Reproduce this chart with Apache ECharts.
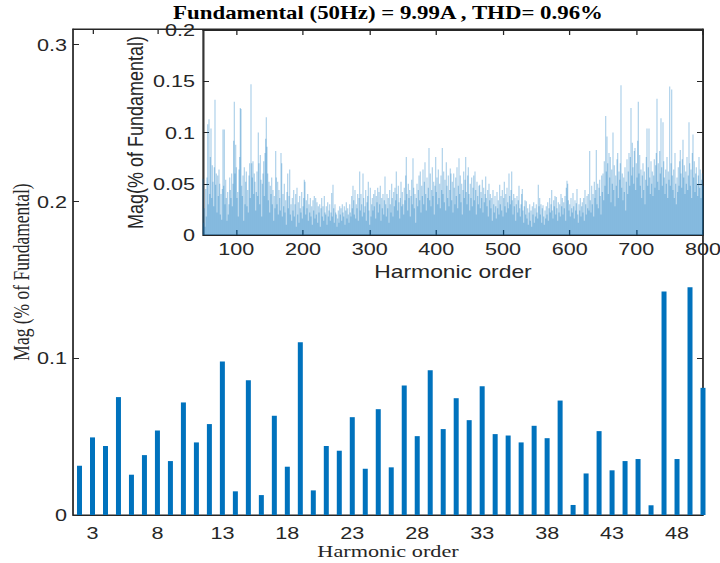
<!DOCTYPE html>
<html>
<head>
<meta charset="utf-8">
<script src="https://cdn.jsdelivr.net/npm/echarts@6/dist/echarts.min.js"></script>
<style>
  html, body { margin: 0; padding: 0; background: #fff; overflow: hidden; }
  #wrap { width: 720px; height: 563px; overflow: hidden; position: relative; }
  #chart { position: absolute; left: 0; top: 0; height: 563px; transform-origin: 0 0; }
</style>
</head>
<body>
<div id="wrap"><div id="chart"></div></div>
<script>
// ---------------- DATA ----------------
const titleText = 'Fundamental (50Hz) = 9.99A , THD= 0.96%';

// main plot: harmonic orders 2..50
const mainOrders = [2,3,4,5,6,7,8,9,10,11,12,13,14,15,16,17,18,19,20,21,22,23,24,25,26,
                    27,28,29,30,31,32,33,34,35,36,37,38,39,40,41,42,43,44,45,46,47,48,49,50];
const mainMag = [0.0314,0.0495,0.0440,0.0752,0.0257,0.0382,0.0539,0.0344,0.0718,0.0463,0.0580,0.0979,
                 0.0151,0.0860,0.0127,0.0633,0.0308,0.1102,0.0157,0.0440,0.0410,0.0624,0.0295,0.0675,
                 0.0304,0.0826,0.0503,0.0924,0.0548,0.0745,0.0605,0.0822,0.0516,0.0507,0.0463,0.0569,
                 0.0490,0.0730,0.0064,0.0265,0.0535,0.0285,0.0344,0.0357,0.0062,0.1425,0.0357,0.1452,0.0811];
const mainXTicks = [3,8,13,18,23,28,33,38,43,48];
const mainYTicks = [0,0.1,0.2,0.3];

// inset: harmonic orders 50..800, magnitudes in thousandths
const insetFirstOrder = 50;
const insetMagMilli = [
 55,12,26,8,45,18,56,108,30,113,40,76,104,36,68,52,28,66,132,49,60,22,58,38,64,
 50,20,40,15,45,103,48,103,30,54,36,14,42,20,30,56,44,36,60,28,50,92,130,60,88,
 66,36,42,18,64,76,124,123,48,38,58,14,66,30,52,62,28,44,22,58,70,36,147,70,56,
 72,40,60,52,24,42,62,38,100,70,30,78,54,18,50,60,72,38,80,94,115,86,60,34,52,
 22,48,40,56,30,44,14,38,26,82,56,30,52,20,44,36,24,80,70,18,40,28,50,22,34,
 10,42,60,26,38,64,20,30,14,36,24,44,18,30,40,8,46,20,32,12,38,26,22,42,16,
 28,36,54,52,20,34,26,40,14,30,22,36,18,28,10,34,24,38,16,36,20,32,12,28,22,
 30,8,26,36,18,28,14,38,22,20,28,10,32,18,24,30,14,22,41,18,49,26,12,30,22,
 20,8,16,24,12,28,20,26,14,30,22,18,28,10,24,32,16,26,20,12,30,22,18,38,26,
 48,34,20,44,16,30,26,40,14,36,62,24,40,30,18,60,36,22,28,44,14,32,38,52,24,
 10,46,18,30,36,24,40,28,44,16,38,32,46,22,42,30,48,14,36,26,40,20,34,57,30,
 18,40,26,36,12,44,30,22,50,36,18,42,28,46,34,62,40,24,48,32,16,36,52,28,42,
 30,20,46,34,58,76,40,24,50,36,44,18,38,54,30,75,46,26,40,12,36,50,28,44,58,
 34,62,22,48,38,64,30,52,71,40,24,56,36,46,85,34,60,28,44,66,38,52,20,48,76,
 42,56,30,64,36,50,26,58,44,85,40,62,32,54,24,71,48,36,58,28,44,65,60,34,52,
 22,60,46,30,56,38,66,26,48,75,40,58,32,50,20,44,62,36,54,76,42,30,58,66,40,
 24,50,36,56,28,46,58,34,62,44,20,52,38,30,48,49,26,42,36,54,22,46,32,40,57,
 36,28,44,18,50,34,40,26,36,14,44,30,22,38,28,16,42,26,34,20,49,30,38,24,44,
 18,36,52,28,40,22,46,32,26,60,38,30,44,62,34,20,40,28,36,14,30,38,22,34,48,
 26,18,30,40,45,24,12,28,34,20,33,16,26,10,22,30,14,24,8,28,20,32,12,26,18,
 30,22,16,49,28,36,20,30,12,26,29,18,10,24,16,28,20,32,14,26,36,22,30,44,24,
 16,34,28,38,20,37,26,14,32,22,30,18,40,28,36,20,32,26,38,14,46,53,50,34,24,
 30,18,36,26,22,41,28,16,34,24,31,45,20,12,30,24,36,18,28,32,22,36,14,44,30,
 20,38,26,40,24,82,34,22,48,30,40,18,52,36,44,83,30,50,26,46,54,38,20,58,42,
 60,34,72,48,116,62,96,70,40,80,56,76,32,64,50,100,44,68,28,58,48,74,80,36,62,
 54,70,146,46,60,34,56,42,66,24,52,74,40,62,80,48,76,124,58,90,66,50,82,85,44,
 70,56,92,130,60,78,48,64,36,58,70,44,62,30,54,76,104,48,66,104,56,40,72,50,62,
 38,58,74,46,68,80,133,52,70,44,82,60,114,66,48,110,72,56,40,64,50,76,36,62,54,
 145,48,70,142,58,44,64,36,80,50,30,56,42,66,48,72,83,60,46,74,93,56,68,40,62,
 50,76,44,58,110,70,48,64,36,80,98,56,72,42,60,66,50,38,58,76,46,64,36,54,60,
 48
];
const insetXTicks = [100,200,300,400,500,600,700,800];

// ---------------- LAYOUT (reference pixels; horizontal stretch of the original figure) ----------------
const SX = 1.27;
const X = v => v / SX;
const el = document.getElementById('chart');
el.style.width = (720 / SX) + 'px';
el.style.transform = 'scaleX(' + SX + ')';

const ink = '#262626';
const sans = 'Liberation Sans';
const serif = 'Liberation Serif';

const mainData = mainOrders.map((o, i) => [o, mainMag[i]]);
const insetData = insetMagMilli.map((m, i) => [insetFirstOrder + i, m / 1000]);

function boxAxis(base, extra) { return Object.assign({}, base, extra); }
function lineSt() { return { show: true, onZero: false, lineStyle: { color: ink, width: 1 } }; }

const mainX = {
  type: 'value', gridIndex: 0, min: 1.5, max: 50, nameMoveOverlap: false,
  axisLine: lineSt(),
  axisTick: { show: true, inside: true, length: 5, customValues: mainXTicks, lineStyle: { color: ink } },
  splitLine: { show: false },
};
const mainY = {
  type: 'value', gridIndex: 0, min: 0, max: 0.31, nameMoveOverlap: false,
  axisLine: lineSt(),
  axisTick: { show: true, inside: true, length: X(6), customValues: mainYTicks, lineStyle: { color: ink } },
  splitLine: { show: false },
};
const insX = {
  type: 'value', gridIndex: 1, min: 50, max: 800, z: 11, nameMoveOverlap: false,
  axisLine: lineSt(),
  axisTick: { show: true, inside: true, length: 5, customValues: insetXTicks, lineStyle: { color: ink } },
  splitLine: { show: false },
};
const insY = {
  type: 'value', gridIndex: 1, min: 0, max: 0.2, interval: 0.05, z: 11, nameMoveOverlap: false,
  axisLine: lineSt(),
  axisTick: { show: true, inside: true, length: X(6), lineStyle: { color: ink } },
  splitLine: { show: false },
};

const chart = echarts.init(el, null, { renderer: 'svg' });
chart.setOption({
  backgroundColor: '#fff',
  animation: false,
  title: {
    text: titleText,
    left: X(388), top: 6, textAlign: 'center', padding: 0,
    textStyle: { fontFamily: serif, fontWeight: 'bold', fontSize: 18, lineHeight: 14, color: '#000' }
  },
  grid: [
    { left: X(73), top: 29, width: X(630), height: 486, show: true, backgroundColor: 'transparent',
      borderColor: ink, borderWidth: 1, containLabel: false, outerBoundsMode: 'none' },
    { left: X(203), top: 30, width: X(500), height: 205, show: true, backgroundColor: '#fff',
      borderColor: ink, borderWidth: 1, z: 10, containLabel: false, outerBoundsMode: 'none' }
  ],
  xAxis: [
    boxAxis(mainX, {
      position: 'bottom',
      axisLabel: { customValues: mainXTicks, margin: 9, fontFamily: sans, fontSize: 17, color: ink },
      name: 'Harmonic order', nameLocation: 'middle', nameGap: 27,
      nameTextStyle: { fontFamily: serif, fontSize: 17.5, lineHeight: 17, color: ink }
    }),
    boxAxis(mainX, { position: 'top', axisLabel: { show: false } }),
    boxAxis(insX, {
      position: 'bottom',
      axisLabel: { customValues: insetXTicks, margin: 5, fontFamily: sans, fontSize: 17, color: ink },
      name: 'Harmonic order', nameLocation: 'middle', nameGap: 27,
      nameTextStyle: { fontFamily: sans, fontSize: 18, color: ink }
    }),
    boxAxis(insX, { position: 'top', axisLabel: { show: false } })
  ],
  yAxis: [
    boxAxis(mainY, {
      position: 'left',
      axisLabel: { customValues: mainYTicks, margin: X(6), fontFamily: sans, fontSize: 17, color: ink },
      name: 'Mag (% of Fundamental)', nameLocation: 'middle', nameGap: 32,
      nameTextStyle: { fontFamily: serif, fontSize: 17.5, color: ink }
    }),
    boxAxis(mainY, { position: 'right', axisLabel: { show: false } }),
    boxAxis(insY, {
      position: 'left',
      axisLabel: { margin: X(8), fontFamily: sans, fontSize: 17, lineHeight: 14, color: ink },
      name: 'Mag(% of Fundamental)', nameLocation: 'middle', nameGap: 45,
      nameTextStyle: { fontFamily: sans, fontSize: 18, color: ink }
    }),
    boxAxis(insY, { position: 'right', axisLabel: { show: false } })
  ],
  series: [
    {
      type: 'bar', xAxisIndex: 0, yAxisIndex: 0, data: mainData,
      barWidth: X(5), itemStyle: { color: '#0072BD' }, clip: true, z: 2
    },
    {
      type: 'bar', xAxisIndex: 2, yAxisIndex: 2, data: insetData,
      barWidth: X(0.45), itemStyle: { color: 'rgba(0,114,189,0.3)' }, clip: true, z: 12
    }
  ]
});
</script>
</body>
</html>
